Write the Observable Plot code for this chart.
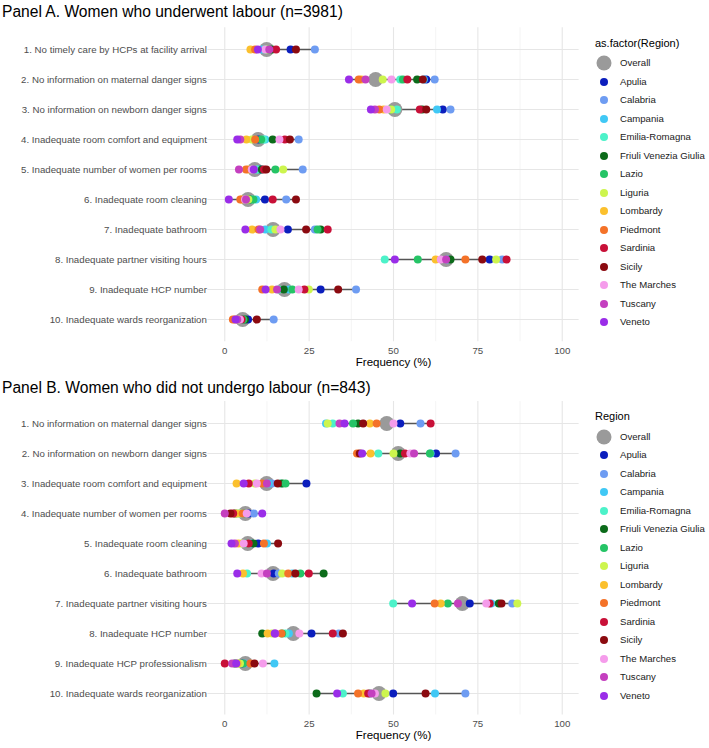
<!DOCTYPE html>
<html><head><meta charset="utf-8">
<script src="https://cdn.jsdelivr.net/npm/d3@7"></script>
<script src="https://cdn.jsdelivr.net/npm/@observablehq/plot@0.6"></script>
<style>
html,body{margin:0;padding:0;background:#fff;overflow:hidden;}
#root{position:relative;width:709px;height:748px;font-family:"Liberation Sans",Arial,sans-serif;}
.ptitle{position:absolute;left:2px;font-size:15.6px;color:#000;white-space:nowrap;line-height:1;}
.panel{position:absolute;left:0;}
.ltitle{position:absolute;left:595px;font-size:11px;color:#000;line-height:1;white-space:nowrap;}
.litem{position:absolute;left:594px;height:18px;font-size:9.6px;color:#1a1a1a;white-space:nowrap;}
.litem svg{position:absolute;left:0;top:0;}
.litem span{position:absolute;left:26px;top:3px;line-height:12px;}
</style></head>
<body><div id="root"></div>
<script>
const regions = ["Apulia","Calabria","Campania","Emilia-Romagna","Friuli Venezia Giulia","Lazio","Liguria","Lombardy","Piedmont","Sardinia","Sicily","The Marches","Tuscany","Veneto"];
const regionColors = ["#0b1ebd","#6e9cf2","#40c8f5","#4cf2c9","#0c6b1a","#25c466","#cdf54e","#fbc02d","#f47228","#c81038","#8b0a10","#f59ceb","#c43fbf","#9a2de8"];
const overallColor = "#9a9a9a";

const titleA = "Panel A. Women who underwent labour (n=3981)";
const titleB = "Panel B. Women who did not undergo labour (n=843)";
const legendTitleA = "as.factor(Region)";
const legendTitleB = "Region";
const xLabel = "Frequency (%)";
const xTicks = [0,25,50,75,100];
const xMinorGrid = [12.5,37.5,62.5,87.5];

const itemsA = [
 "1. No timely care by HCPs at facility arrival",
 "2. No information on maternal danger signs",
 "3. No information on newborn danger signs",
 "4. Inadequate room comfort and equipment",
 "5. Inadequate number of women per rooms",
 "6. Inadequate room cleaning",
 "7. Inadequate bathroom",
 "8. Inadequate partner visiting hours",
 "9. Inadequate HCP number",
 "10. Inadequate wards reorganization"];
const overallA = [12.4,44.7,50.4,9.9,8.9,6.9,14.3,65.6,17.7,5.3];
// columns follow `regions`
const valuesA = [
 [19.5,26.7,11,12,14,13,12.5,7.6,9,15.2,21.1,12,13.2,9.8],
 [59.7,62.2,59,52,57,52.8,46.8,40.5,39.7,54.1,58.7,49.4,41.7,36.8],
 [64.6,66.9,62.9,51,58.5,49,49.3,47.1,45.8,57.8,59.7,48,44.5,43.3],
 [10,21.9,12,11.5,14.2,10.8,8,6.4,9,17.8,19.3,16.2,4.6,3.7],
 [10.6,23.1,10,9.5,11,15,17.3,7,6.3,11.6,12.3,8,4.2,8.6],
 [11.9,18.2,9.3,8,7.5,8.5,7,5,4.6,14.2,21.1,6,6.3,1.2],
 [18.7,26.7,12,13.8,28.4,27.5,15,8.1,10,30.5,24.1,16.5,10.5,6.1],
 [78.5,82.2,66,47.4,66.9,57.2,80.4,62.5,71.3,83.5,76.3,64,65.6,50.4],
 [28.4,38.9,19,16,17.5,20,24.9,14,11.1,23.6,33.6,21.9,15.5,12.1],
 [6.9,14.5,5,4.5,6,5.5,4,3,2.4,5,9.5,4.5,3.7,3.2]];

const itemsB = [
 "1. No information on maternal danger signs",
 "2. No information on newborn danger signs",
 "3. Inadequate room comfort and equipment",
 "4. Inadequate number of women per rooms",
 "5. Inadequate room cleaning",
 "6. Inadequate bathroom",
 "7. Inadequate partner visiting hours",
 "8. Inadequate HCP number",
 "9. Inadequate HCP professionalism",
 "10. Inadequate wards reorganization"];
const overallB = [48,51.4,12.4,6.1,6.8,14.3,70.4,20.3,6.1,45.7];
const valuesB = [
 [52,58,30,32,39.5,38,30.5,43,45,61,41,50,34,35.5],
 [62.6,68.4,61,45.5,52,60.8,50,43.2,39.2,53.4,40,55,56.1,40.7],
 [24.2,14,13,16.5,17,18,8.9,3.5,11.1,7.1,15.7,9.5,12.5,5.6],
 [7.1,8.6,5,4,3,6,4.5,3.5,5.3,2.5,1.7,6.5,0,11.1],
 [9.9,8,12.5,7.5,8.5,6,5,4,11.6,7.1,15.8,5.6,3,2],
 [14.5,16,20,6.6,29.3,22.4,17,5.4,18.8,24.9,20.9,10.9,12.5,3.7],
 [72.6,85.2,79,49.9,81.2,66.1,86.7,64,62.2,78.5,82,77.5,69.1,55.5],
 [25.7,33.8,19,18,11.1,17,14,12.7,16.8,32,35,22.1,15,14.8],
 [5,6,14.7,4,3,5.5,4.5,3.8,7.6,0,8.8,11.3,2.2,3.4],
 [49.9,71.3,62.3,35,27.2,43,47.6,41.2,39.5,42.5,59.5,44.5,43.5,33.3]];

const root = document.getElementById("root");
const FONT = '"Liberation Sans",Arial,sans-serif';

function panel(items, overall, values, height, marginTop, marginBottom) {
  const rows = [];
  items.forEach((it, i) => regions.forEach((r, j) => rows.push({item: it, region: r, value: values[i][j]})));
  const ov = items.map((it, i) => ({item: it, value: overall[i]}));
  const ranges = items.map((it, i) => ({item: it, lo: d3.min([...values[i], overall[i]]), hi: d3.max([...values[i], overall[i]])}));
  return Plot.plot({
    width: 709, height, marginLeft: 207.4, marginRight: 130.4, marginTop, marginBottom,
    x: {domain: [-5, 105]},
    y: {type: "point", domain: items, padding: 0.6},
    color: {domain: regions, range: regionColors},
    style: {fontFamily: FONT, fontSize: "9.7px", color: "#4d4d4d", background: "white"},
    marks: [
      Plot.ruleX(xMinorGrid, {stroke: "#ececec", strokeWidth: 0.6}),
      Plot.ruleX(xTicks, {stroke: "#e6e6e6", strokeWidth: 1.1}),
      Plot.ruleY(items, {stroke: "#e6e6e6", strokeWidth: 1.1}),
      Plot.axisX({ticks: xTicks, tickSize: 0, tickPadding: 5, label: null, fontSize: 9.7}),
      Plot.axisY({tickSize: 0, tickPadding: 1, label: null, fontSize: 9.7}),
      Plot.ruleY(ranges, {y: "item", x1: "lo", x2: "hi", stroke: "#555555", strokeWidth: 1.3}),
      Plot.dot(ov, {x: "value", y: "item", r: 7.5, fill: overallColor}),
      Plot.dot(rows, {x: "value", y: "item", r: 4, fill: "region"}),
      Plot.text([xLabel], {frameAnchor: "bottom", dy: 24, fontSize: 11.5, fill: "#000"})
    ]
  });
}

function addTitle(text, top) {
  const d = document.createElement("div");
  d.className = "ptitle"; d.style.top = top + "px"; d.textContent = text;
  root.appendChild(d);
}
function addPanel(svg, top) {
  const d = document.createElement("div");
  d.className = "panel"; d.style.top = top + "px"; d.appendChild(svg);
  root.appendChild(d);
}
function addLegend(title, titleTop, firstCenter) {
  const t = document.createElement("div");
  t.className = "ltitle"; t.style.top = titleTop + "px"; t.textContent = title;
  root.appendChild(t);
  const names = ["Overall", ...regions];
  const cols = [overallColor, ...regionColors];
  names.forEach((n, i) => {
    const d = document.createElement("div");
    d.className = "litem";
    d.style.top = (firstCenter + i * 18.5 - 9) + "px";
    const r = i === 0 ? 7.5 : 4;
    d.innerHTML = `<svg width="20" height="18"><circle cx="10" cy="9" r="${r}" fill="${cols[i]}"/></svg><span>${n}</span>`;
    root.appendChild(d);
  });
}

addTitle(titleA, 4);
addPanel(panel(itemsA, overallA, valuesA, 355, 5.2, 35.8), 22);
addLegend(legendTitleA, 38, 63);

addTitle(titleB, 380);
addPanel(panel(itemsB, overallB, valuesB, 350, 5.1, 31.6), 396);
addLegend(legendTitleB, 411, 436.7);
</script>
</body></html>
